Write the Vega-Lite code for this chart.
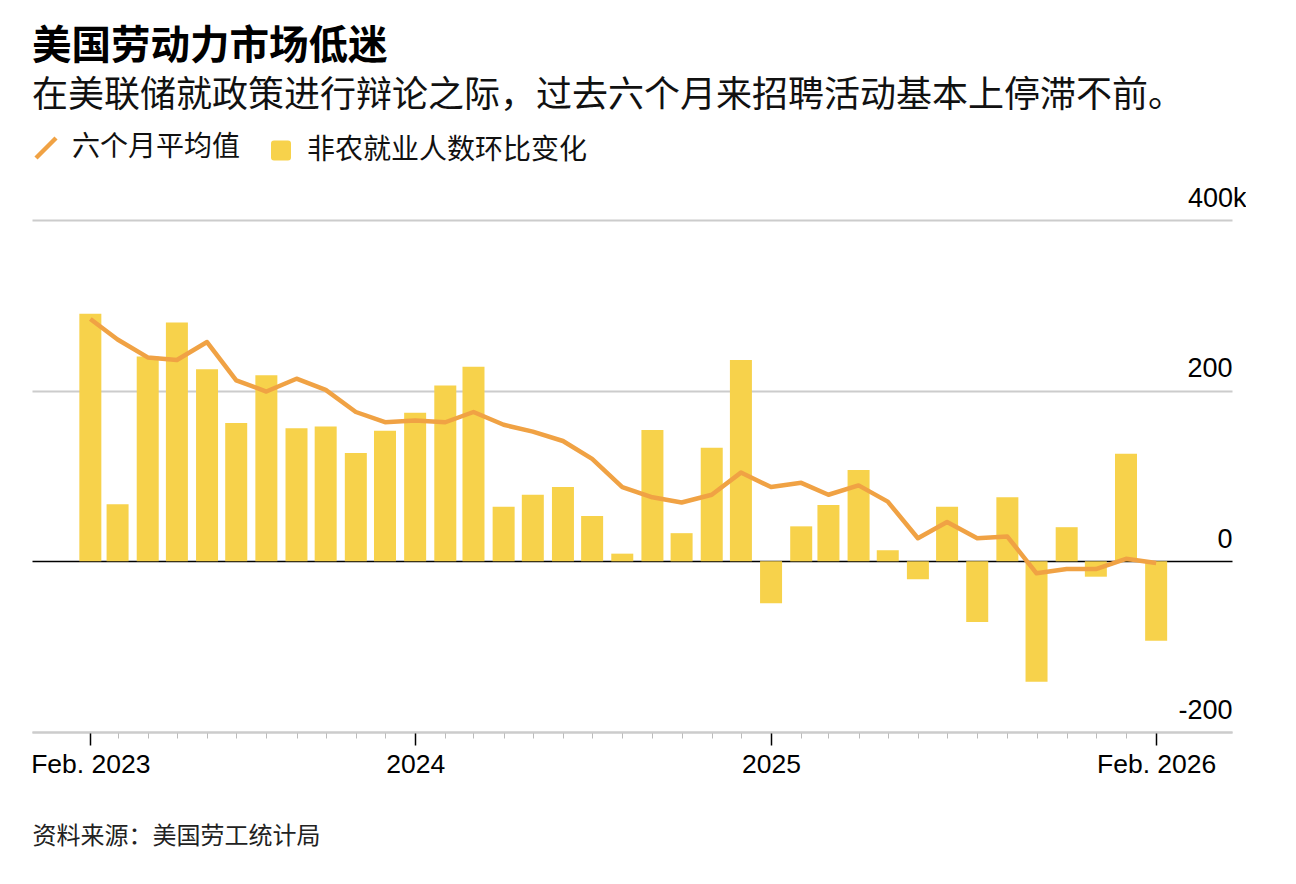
{
  "$schema": "https://vega.github.io/schema/vega-lite/v6.json",
  "width": 1200,
  "height": 512,
  "padding": {"left": 30, "top": 26, "right": 0, "bottom": 12},
  "background": "white",
  "title": {
    "text": "美国劳动力市场低迷",
    "subtitle": "在美联储就政策进行辩论之际，过去六个月来招聘活动基本上停滞不前。",
    "anchor": "start",
    "frame": "group",
    "font": "Noto Sans CJK SC",
    "fontSize": 39.5,
    "fontWeight": "bold",
    "color": "#000000",
    "subtitleFont": "Noto Sans CJK SC",
    "subtitleFontSize": 36,
    "subtitleColor": "#111111",
    "subtitlePadding": 12,
    "offset": 19
  },
  "data": {
    "values": [
      {"date": "2023-02", "jobs": 290, "avg": 284},
      {"date": "2023-03", "jobs": 67, "avg": 260},
      {"date": "2023-04", "jobs": 240, "avg": 239},
      {"date": "2023-05", "jobs": 280, "avg": 236},
      {"date": "2023-06", "jobs": 225, "avg": 257},
      {"date": "2023-07", "jobs": 162, "avg": 212},
      {"date": "2023-08", "jobs": 218, "avg": 199},
      {"date": "2023-09", "jobs": 156, "avg": 214},
      {"date": "2023-10", "jobs": 158, "avg": 201},
      {"date": "2023-11", "jobs": 127, "avg": 175},
      {"date": "2023-12", "jobs": 153, "avg": 163},
      {"date": "2024-01", "jobs": 174, "avg": 165},
      {"date": "2024-02", "jobs": 206, "avg": 163},
      {"date": "2024-03", "jobs": 228, "avg": 175},
      {"date": "2024-04", "jobs": 64, "avg": 160},
      {"date": "2024-05", "jobs": 78, "avg": 152},
      {"date": "2024-06", "jobs": 87, "avg": 141},
      {"date": "2024-07", "jobs": 53, "avg": 120},
      {"date": "2024-08", "jobs": 9, "avg": 87},
      {"date": "2024-09", "jobs": 154, "avg": 75},
      {"date": "2024-10", "jobs": 33, "avg": 69},
      {"date": "2024-11", "jobs": 133, "avg": 78},
      {"date": "2024-12", "jobs": 236, "avg": 104},
      {"date": "2025-01", "jobs": -49, "avg": 87},
      {"date": "2025-02", "jobs": 41, "avg": 92},
      {"date": "2025-03", "jobs": 66, "avg": 78},
      {"date": "2025-04", "jobs": 107, "avg": 89},
      {"date": "2025-05", "jobs": 13, "avg": 70},
      {"date": "2025-06", "jobs": -21, "avg": 27},
      {"date": "2025-07", "jobs": 64, "avg": 46},
      {"date": "2025-08", "jobs": -71, "avg": 27},
      {"date": "2025-09", "jobs": 75, "avg": 29},
      {"date": "2025-10", "jobs": -141, "avg": -14},
      {"date": "2025-11", "jobs": 40, "avg": -9},
      {"date": "2025-12", "jobs": -18, "avg": -9},
      {"date": "2026-01", "jobs": 126, "avg": 3},
      {"date": "2026-02", "jobs": -93, "avg": -2}
    ],
    "format": {"parse": {"date": "date:'%Y-%m'"}}
  },
  "encoding": {
    "x": {
      "field": "date",
      "type": "temporal",
      "scale": {"domain": [{"year": 2022, "month": 12, "date": 3}, {"year": 2026, "month": 4, "date": 20}], "padding": 0, "nice": false},
      "axis": {
        "title": "资料来源：美国劳工统计局",
        "titleFont": "Noto Sans CJK SC",
        "titleFontSize": 24,
        "titleFontWeight": "normal",
        "titleColor": "#222222",
        "titleAnchor": "start",
        "titleAlign": "left",
        "titlePadding": 47,
        "titleLimit": 800,
        "values": [
          {"year": 2023, "month": 2, "date": 1}, {"year": 2023, "month": 3, "date": 1}, {"year": 2023, "month": 4, "date": 1},
          {"year": 2023, "month": 5, "date": 1}, {"year": 2023, "month": 6, "date": 1}, {"year": 2023, "month": 7, "date": 1},
          {"year": 2023, "month": 8, "date": 1}, {"year": 2023, "month": 9, "date": 1}, {"year": 2023, "month": 10, "date": 1},
          {"year": 2023, "month": 11, "date": 1}, {"year": 2023, "month": 12, "date": 1}, {"year": 2024, "month": 1, "date": 1},
          {"year": 2024, "month": 2, "date": 1}, {"year": 2024, "month": 3, "date": 1}, {"year": 2024, "month": 4, "date": 1},
          {"year": 2024, "month": 5, "date": 1}, {"year": 2024, "month": 6, "date": 1}, {"year": 2024, "month": 7, "date": 1},
          {"year": 2024, "month": 8, "date": 1}, {"year": 2024, "month": 9, "date": 1}, {"year": 2024, "month": 10, "date": 1},
          {"year": 2024, "month": 11, "date": 1}, {"year": 2024, "month": 12, "date": 1}, {"year": 2025, "month": 1, "date": 1},
          {"year": 2025, "month": 2, "date": 1}, {"year": 2025, "month": 3, "date": 1}, {"year": 2025, "month": 4, "date": 1},
          {"year": 2025, "month": 5, "date": 1}, {"year": 2025, "month": 6, "date": 1}, {"year": 2025, "month": 7, "date": 1},
          {"year": 2025, "month": 8, "date": 1}, {"year": 2025, "month": 9, "date": 1}, {"year": 2025, "month": 10, "date": 1},
          {"year": 2025, "month": 11, "date": 1}, {"year": 2025, "month": 12, "date": 1}, {"year": 2026, "month": 1, "date": 1},
          {"year": 2026, "month": 2, "date": 1}
        ],
        "labelExpr": "(month(datum.value) == 0 && (year(datum.value) == 2024 || year(datum.value) == 2025)) ? timeFormat(datum.value, '%Y') : (month(datum.value) == 1 && (year(datum.value) == 2023 || year(datum.value) == 2026)) ? 'Feb. ' + timeFormat(datum.value, '%Y') : ''",
        "labelFont": "Liberation Sans",
        "labelFontSize": 26.5,
        "labelColor": "#000000",
        "labelPadding": 6,
        "labelOverlap": false,
        "labelFlush": false,
        "grid": false,
        "domain": true,
        "domainColor": "#cccccc",
        "domainWidth": 2,
        "ticks": true,
        "tickSize": {"condition": {"test": "(month(datum.value) == 0 && (year(datum.value) == 2024 || year(datum.value) == 2025)) || (month(datum.value) == 1 && (year(datum.value) == 2023 || year(datum.value) == 2026))", "value": 13}, "value": 6},
        "tickColor": {"condition": {"test": "(month(datum.value) == 0 && (year(datum.value) == 2024 || year(datum.value) == 2025)) || (month(datum.value) == 1 && (year(datum.value) == 2023 || year(datum.value) == 2026))", "value": "#000000"}, "value": "#bbbbbb"},
        "tickWidth": {"condition": {"test": "(month(datum.value) == 0 && (year(datum.value) == 2024 || year(datum.value) == 2025)) || (month(datum.value) == 1 && (year(datum.value) == 2023 || year(datum.value) == 2026))", "value": 1.5}, "value": 1}
      }
    }
  },
  "layer": [
    {
      "mark": {"type": "bar", "width": 22},
      "encoding": {
        "y": {
          "field": "jobs",
          "type": "quantitative",
          "scale": {"domain": [-200, 400], "nice": false},
          "axis": {
            "orient": "right",
            "title": null,
            "values": [-200, 0, 200, 400],
            "labelExpr": "datum.value == 400 ? '400k' : toString(datum.value)",
            "labelFont": "Liberation Sans",
            "labelFontSize": 27,
            "labelColor": "#000000",
            "labelAlign": "right",
            "labelBaseline": "alphabetic",
            "labelOffset": -14,
            "labelPadding": {"condition": {"test": "datum.value == 400", "value": 14}, "value": 0},
            "domain": false,
            "ticks": false,
            "tickSize": 0,
            "grid": true,
            "gridColor": {"condition": {"test": "datum.value == 0", "value": "#000000"}, "value": "#cccccc"},
            "gridWidth": {"condition": {"test": "datum.value == 0", "value": 1.6}, "value": 2}
          }
        },
        "color": {
          "datum": "非农就业人数环比变化",
          "type": "nominal",
          "scale": {"domain": ["六个月平均值", "非农就业人数环比变化"], "range": ["#F0A244", "#F7D24B"]},
          "legend": {
            "title": null,
            "orient": "top",
            "direction": "horizontal",
            "labelFont": "Noto Sans CJK SC",
            "labelFontSize": 28,
            "labelColor": "#111111",
            "labelOffset": 12,
            "labelLimit": 600,
            "columnPadding": 26,
            "symbolSize": 400,
            "padding": 0,
            "offset": 53,
            "encode": {
              "symbols": {
                "update": {
                  "shape": {"signal": "datum.value === '六个月平均值' ? 'M-1,1L1,-1' : 'M-0.7,-1H0.7Q1,-1,1,-0.7V0.7Q1,1,0.7,1H-0.7Q-1,1,-1,0.7V-0.7Q-1,-1,-0.7,-1Z'"},
                  "fill": {"signal": "datum.value === '六个月平均值' ? 'transparent' : '#F7D24B'"},
                  "stroke": {"signal": "datum.value === '六个月平均值' ? '#F0A244' : 'transparent'"},
                  "strokeWidth": {"signal": "datum.value === '六个月平均值' ? 4.5 : 0"},
                  "opacity": {"value": 1},
                  "fillOpacity": {"value": 1},
                  "strokeOpacity": {"value": 1}
                }
              }
            }
          }
        }
      }
    },
    {
      "mark": {"type": "rule", "color": "#000000", "stroke": "#000000", "strokeWidth": 1.6},
      "encoding": {"y": {"datum": 0, "type": "quantitative"}}
    },
    {
      "mark": {"type": "line", "strokeWidth": 4.5, "strokeJoin": "round", "strokeCap": "butt"},
      "encoding": {
        "y": {"field": "avg", "type": "quantitative"},
        "color": {"datum": "六个月平均值", "type": "nominal"}
      }
    }
  ],
  "config": {"view": {"stroke": null}}
}
